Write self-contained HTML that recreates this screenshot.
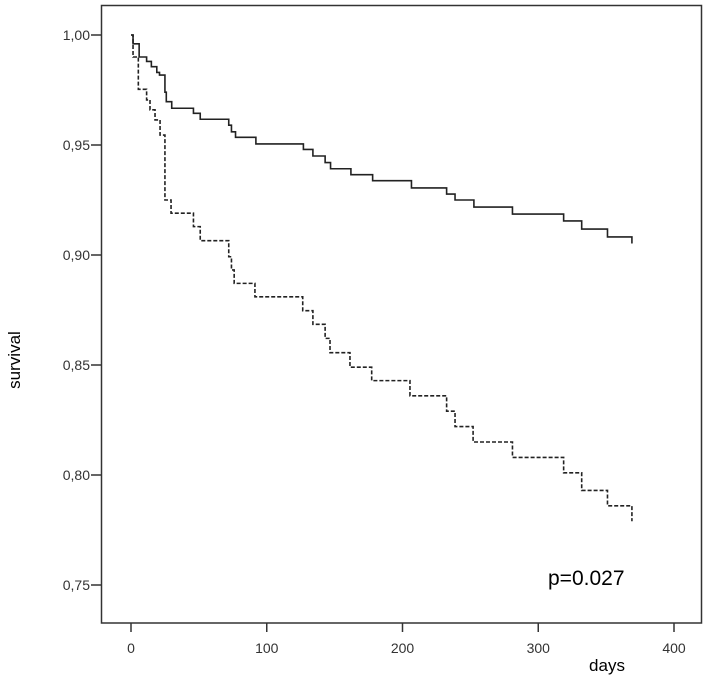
<!DOCTYPE html>
<html><head><meta charset="utf-8"><style>
body{margin:0;background:#fff;}
svg{display:block;font-family:"Liberation Sans",Arial,sans-serif;}
</style></head><body>
<svg id="chart" width="709" height="690" viewBox="0 0 709 690">
<rect x="0" y="0" width="709" height="690" fill="#fff"/>
<rect x="101.5" y="5.5" width="600" height="617.5" fill="none" stroke="#333" stroke-width="1.5"/>
<g id="axes"></g>
<g id="series"></g>
<text x="20" y="360" transform="rotate(-90 20 360)" text-anchor="middle" font-size="17" fill="#000">survival</text>
<text x="607" y="671" text-anchor="middle" font-size="17" fill="#000">days</text>
<text x="548" y="585" font-size="21" fill="#000">p=0.027</text>
</svg>
<script>
const xTicks = [0, 100, 200, 300, 400];
const yTicks = [0.75, 0.80, 0.85, 0.90, 0.95, 1.00];
const yTickLabels = ["0,75", "0,80", "0,85", "0,90", "0,95", "1,00"];
const solidTimes = [0, 1.5, 6, 11.5, 15, 19, 21, 25, 26, 30, 46, 51, 72, 74, 77, 92, 127, 134, 143, 147, 162, 178, 206.6, 232.5, 238.7, 252.6, 281, 318.7, 332, 351, 369];
const solidSurv = [1.0, 0.996, 0.990, 0.988, 0.9856, 0.983, 0.9818, 0.974, 0.9697, 0.9667, 0.9644, 0.9617, 0.959, 0.956, 0.9535, 0.9505, 0.948, 0.945, 0.942, 0.9392, 0.9365, 0.9338, 0.9305, 0.9277, 0.925, 0.9218, 0.9186, 0.9155, 0.9118, 0.9082, 0.9052];
const dashedTimes = [0, 1.5, 5.4, 11.5, 14, 17.7, 21.4, 25, 29.5, 46, 51, 72, 74, 76, 91.3, 126.5, 134, 143, 146.6, 161.3, 177.3, 205.5, 232.5, 238.7, 252, 281, 318.7, 332, 351, 369];
const dashedSurv = [1.0, 0.990, 0.9753, 0.9705, 0.966, 0.9614, 0.9545, 0.925, 0.919, 0.9129, 0.9065, 0.8992, 0.8932, 0.8871, 0.881, 0.8747, 0.8685, 0.8621, 0.8556, 0.849, 0.8429, 0.836, 0.829, 0.822, 0.815, 0.808, 0.801, 0.793, 0.786, 0.779];

const NS = "http://www.w3.org/2000/svg";
function xScale(t){ return 131 + t * (674 - 131) / 400; }
function yScale(s){ return 35 + (1 - s) * 2200; }

const axes = document.getElementById('axes');
xTicks.forEach(function(t){
  const l = document.createElementNS(NS, 'line');
  l.setAttribute('x1', xScale(t)); l.setAttribute('x2', xScale(t));
  l.setAttribute('y1', 623); l.setAttribute('y2', 632);
  l.setAttribute('stroke', '#333'); l.setAttribute('stroke-width', '1.5');
  
  
  axes.appendChild(l);
  const tx = document.createElementNS(NS, 'text');
  tx.setAttribute('x', xScale(t)); tx.setAttribute('y', 653);
  tx.setAttribute('text-anchor', 'middle'); tx.setAttribute('font-size', '14'); tx.setAttribute('fill', '#333');
  tx.textContent = t;
  
  
  axes.appendChild(tx);
});
yTicks.forEach(function(v, i){
  const l = document.createElementNS(NS, 'line');
  l.setAttribute('x1', 91); l.setAttribute('x2', 101);
  l.setAttribute('y1', yScale(v)); l.setAttribute('y2', yScale(v));
  l.setAttribute('stroke', '#333'); l.setAttribute('stroke-width', '1.5');
  
  
  axes.appendChild(l);
  const tx = document.createElementNS(NS, 'text');
  tx.setAttribute('x', 90); tx.setAttribute('y', yScale(v) + 5);
  tx.setAttribute('text-anchor', 'end'); tx.setAttribute('font-size', '14'); tx.setAttribute('fill', '#333');
  tx.textContent = yTickLabels[i];
  
  
  axes.appendChild(tx);
});

function stepPath(times, surv){
  let d = 'M' + xScale(times[0]) + ' ' + yScale(surv[0]);
  for (let i = 1; i < times.length; i++){
    d += ' H' + xScale(times[i]) + ' V' + yScale(surv[i]);
  }
  return d;
}
const series = document.getElementById('series');
const p1 = document.createElementNS(NS, 'path');
p1.setAttribute('d', stepPath(solidTimes, solidSurv));
p1.setAttribute('fill', 'none'); p1.setAttribute('stroke', '#222'); p1.setAttribute('stroke-width', '1.6');


series.appendChild(p1);
const p2 = document.createElementNS(NS, 'path');
p2.setAttribute('d', stepPath(dashedTimes, dashedSurv));
p2.setAttribute('fill', 'none'); p2.setAttribute('stroke', '#222'); p2.setAttribute('stroke-width', '1.6');
p2.setAttribute('stroke-dasharray', '4 2');


series.appendChild(p2);
</script>
</body></html>
